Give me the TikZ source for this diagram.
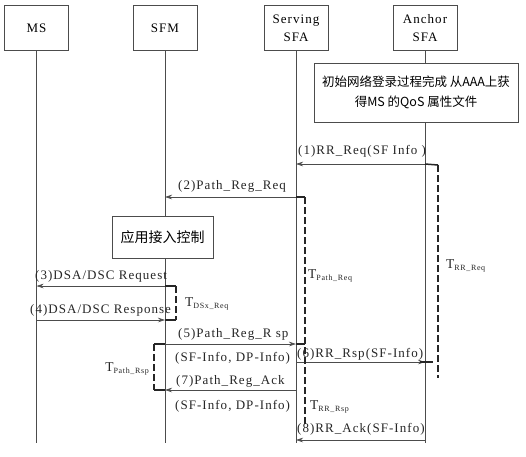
\documentclass[tikz,border=0pt]{standalone}
\usepackage{fontspec}
\setmainfont{Liberation Serif}[LetterSpace=8]
\newfontfamily\cjk{Noto Sans CJK SC}
\usetikzlibrary{arrows.meta}
\tikzset{
  line/.style={draw=black!70, line width=0.6pt},
  msg/.style={line, -{Stealth[length=7pt,width=4.5pt]}},
  timer/.style={draw=black!85, line width=2pt, dash pattern=on 7pt off 3pt},
  tick/.style={draw=black!85, line width=1.5pt},
  actor/.style={draw=black!70, line width=0.6pt, fill=white, minimum width=64pt,
    minimum height=45pt, align=center, inner sep=0pt, font=\fontsize{13}{18}\selectfont},
  notebox/.style={draw=black!70, line width=0.6pt, fill=white, align=center, inner sep=0pt},
  lbl/.style={font=\fontsize{13}{15}\selectfont, inner sep=0pt, anchor=base west, text=black!85},
  tlbl/.style={font=\fontsize{13.5}{15}\selectfont, inner sep=0pt, anchor=base west, text=black!85},
}
\newcommand{\tsub}[1]{\raisebox{-2pt}{\fontsize{8}{9}\selectfont #1}}
\begin{document}
\begin{tikzpicture}[x=1pt,y=-1pt]
\useasboundingbox[fill=white] (0,0) rectangle (526,456);
% actors
\node[actor] (ms)  at (36.5,28) {MS};
\node[actor] (sfm) at (165,28) {SFM};
\node[actor] (ser) at (296,28) {Serving\\SFA};
\node[actor] (anc) at (425,28) {Anchor\\SFA};
% lifeline ends
\coordinate (msb)  at (36.5,443);
\coordinate (sfmb) at (165,443);
\coordinate (serb) at (296,443);
\coordinate (ancb) at (425,443);
\draw[line] (ms.south) -- (msb);
\draw[line] (sfm.south) -- (sfmb);
\draw[line] (ser.south) -- (serb);
\draw[line] (anc.south) -- (ancb);
% boxes over lifelines
\node[notebox, minimum width=204pt, minimum height=59pt, font=\cjk\fontsize{12.5}{20}\selectfont] (info) at (416,92.5)
  {初始网络登录过程完成\ 从AAA上获\\得MS 的QoS 属性文件};
\node[notebox, minimum width=101pt, minimum height=42pt, font=\cjk\fontsize{14}{16}\selectfont] (app) at (162.5,237) {应用接入控制};
% message end points
\coordinate (a1) at (425,164); \coordinate (s1) at (296,164);
\coordinate (s2) at (296,197); \coordinate (f2) at (165,197);
\coordinate (f3) at (165,286); \coordinate (m3) at (36.5,286);
\coordinate (m4) at (36.5,320); \coordinate (f4) at (165,320);
\coordinate (f5) at (165,344); \coordinate (s5) at (296,344);
\coordinate (s6) at (296,362); \coordinate (a6) at (425,362);
\coordinate (s7) at (296,390); \coordinate (f7) at (165,390);
\coordinate (a8) at (425,440); \coordinate (s8) at (296,440);
% messages
\draw[msg] (a1) -- (s1);
\draw[msg] (s2) -- (f2);
\draw[msg] (f3) -- (m3);
\draw[msg] (m4) -- (f4);
\draw[msg] (f5) -- (s5);
\draw[msg] (s6) -- (a6);
\draw[msg] (s7) -- (f7);
\draw[msg] (a8) -- (s8);
% message labels
\node[lbl] (l1) at (298,154) {(1)RR\_Req(SF Info )};
\node[lbl] (l2) at (178,189) {(2)Path\_Reg\_Req};
\node[lbl] (l3) at (35,279) {(3)DSA/DSC Request};
\node[lbl] (l4) at (30,313) {(4)DSA/DSC Response};
\node[lbl] (l5) at (178,337) {(5)Path\_Reg\_R sp};
\node[lbl] (l5b) at (175,361) {(SF-Info, DP-Info)};
\node[lbl] (l6) at (297,357) {(6)RR\_Rsp(SF-Info)};
\node[lbl] (l7) at (176,384) {(7)Path\_Reg\_Ack};
\node[lbl] (l7b) at (175,409) {(SF-Info, DP-Info)};
\node[lbl] (l8) at (297,432) {(8)RR\_Ack(SF-Info)};
% timers
\coordinate (tA1) at (438,165); \coordinate (tA2) at (438,378);
\draw[tick] (a1) -- (tA1);
\draw[timer] (tA1) -- (tA2);
\coordinate (tA3) at (420,362); \coordinate (tA4) at (433,362);
\draw[tick] (tA3) -- (tA4);
\node[tlbl] (trrreq) at (446,268) {T\tsub{RR\_Req}};

\coordinate (tS1) at (305,197); \coordinate (tS2) at (305,425);
\draw[tick] (s2) -- (tS1);
\draw[timer] (tS1) -- (tS2);
\coordinate (tS3) at (305,344);
\draw[tick] (s5) -- (tS3);
\node[tlbl] (tpreq) at (308,278) {T\tsub{Path\_Req}};
\node[tlbl] (trrrsp) at (310,409) {T\tsub{RR\_Rsp}};

\coordinate (tD1) at (176,286); \coordinate (tD2) at (176,320);
\draw[tick] (f3) -- (tD1);
\draw[timer] (tD1) -- (tD2);
\draw[tick] (f4) -- (tD2);
\node[tlbl] (tdsx) at (185,306) {T\tsub{DSx\_Req}};

\coordinate (tP1) at (154,344); \coordinate (tP2) at (154,390);
\draw[tick] (f5) -- (tP1);
\draw[timer] (tP1) -- (tP2);
\draw[tick] (f7) -- (tP2);
\node[tlbl, anchor=base east] (tprsp) at (149,371) {T\tsub{Path\_Rsp}};
\end{tikzpicture}
\end{document}
